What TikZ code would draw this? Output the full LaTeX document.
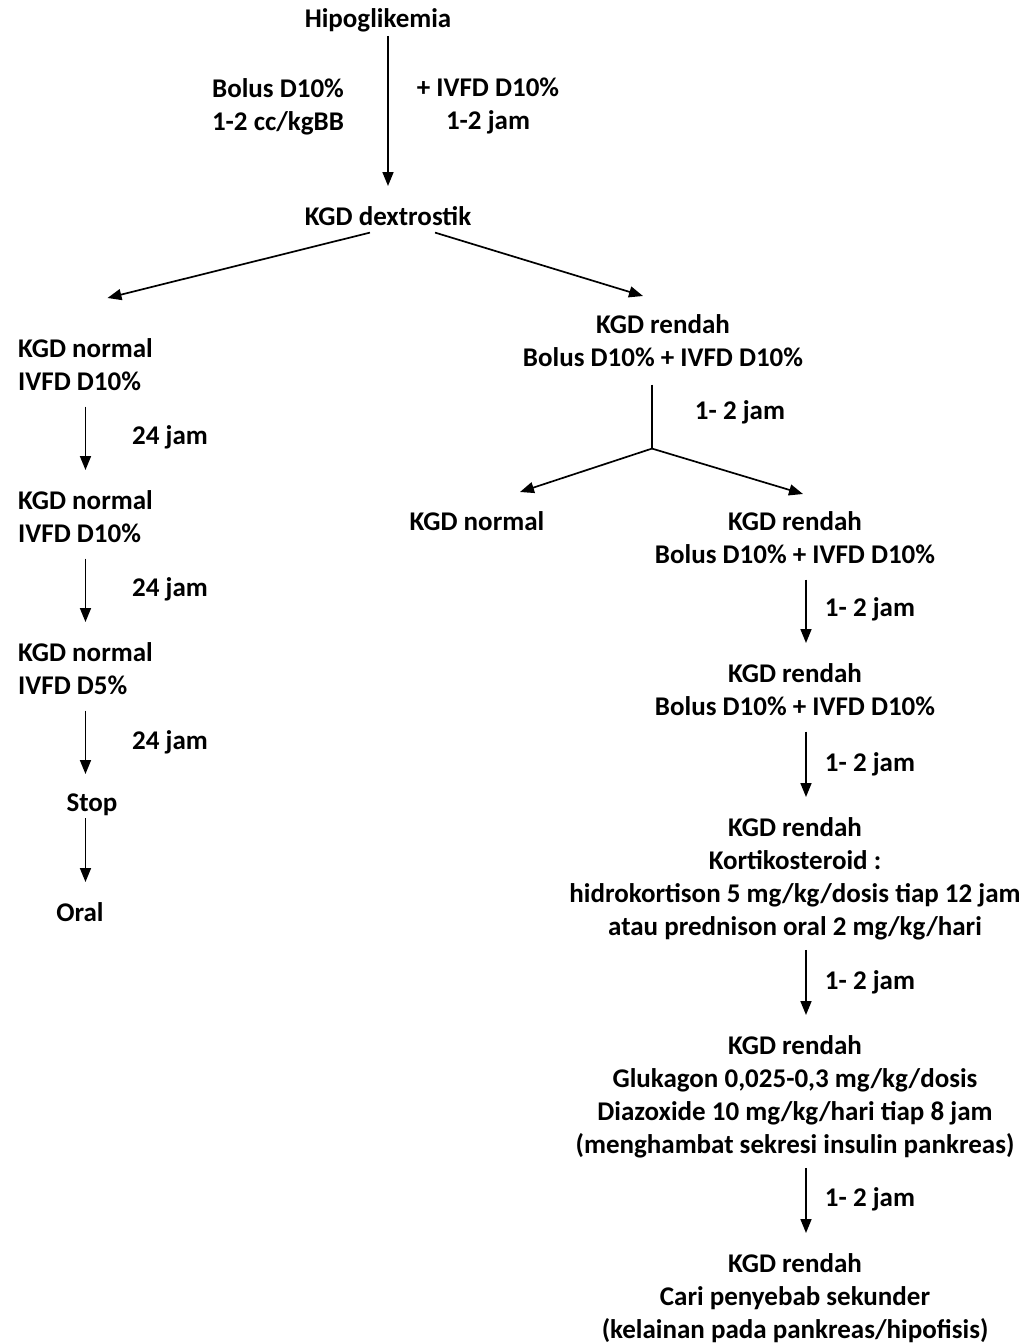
\documentclass[tikz,border=0pt]{standalone}
\usepackage{fontspec}
\setmainfont{Carlito}
\usepackage{tikz}
\usetikzlibrary{arrows.meta, positioning, calc}

\begin{document}
\begin{tikzpicture}[x=1pt, y=-1pt,
    txt/.style={font=\bfseries\fontsize{27}{33}\selectfont, inner sep=0pt, align=center, anchor=north},
    arr/.style={-{Triangle[length=14pt, width=11pt]}, line width=1.7pt, shorten >=20pt, shorten <=16pt},
    ln/.style={line width=1.7pt}]
    \useasboundingbox (0,0) rectangle (1027,1344);

    % Top
    \node[txt] (hipo) at (378, 8) {Hipoglikemia};
    \node[txt] (bolus) at (278, 78) {Bolus D10\%\\1-2 cc/kgBB};
    \node[txt] (ivfd) at (488, 78) {+ IVFD D10\%\\1-2 jam};
    \node[txt] (dex) at (388, 206) {KGD dextrostik};
    \draw[arr, shorten <=4pt] (hipo.south -| dex.north) -- (dex.north);

    % Left branch
    \node[txt, align=left, anchor=north west] (kn1) at (18, 338) {KGD normal\\IVFD D10\%};
    \node[txt, align=left, anchor=north west] (kn2) at (18, 490) {KGD normal\\IVFD D10\%};
    \node[txt, align=left, anchor=north west] (kn3) at (18, 642) {KGD normal\\IVFD D5\%};
    \node[txt] (stop) at (92, 794) {Stop};
    \node[txt] (oral) at (80, 902) {Oral};
    \node[txt] (t1) at (170, 425) {24 jam};
    \node[txt] (t2) at (170, 577) {24 jam};
    \node[txt] (t3) at (170, 730) {24 jam};
    \draw[arr] (kn1.south) -- (kn1.south |- kn2.north);
    \draw[arr] (kn2.south) -- (kn2.south |- kn3.north);
    \draw[arr] (kn3.south) -- (kn3.south |- stop.north);
    \draw[arr, shorten <=2pt] (stop.south -| kn3.south) -- (kn3.south |- oral.north);

    % Right branch
    \node[txt] (r1) at (663, 314) {KGD rendah\\Bolus D10\% + IVFD D10\%};
    \node[txt] (lr1) at (740, 400) {1- 2 jam};
    \node[txt] (knr) at (477, 511) {KGD normal};
    \node[txt] (r2) at (795, 511) {KGD rendah\\Bolus D10\% + IVFD D10\%};
    \node[txt] (lr2) at (870, 597) {1- 2 jam};
    \node[txt] (r3) at (795, 663) {KGD rendah\\Bolus D10\% + IVFD D10\%};
    \node[txt] (lr3) at (870, 752) {1- 2 jam};
    \node[txt] (r4) at (795, 817) {KGD rendah\\Kortikosteroid :\\hidrokortison 5 mg/kg/dosis tiap 12 jam\\atau prednison oral 2 mg/kg/hari};
    \node[txt] (lr4) at (870, 970) {1- 2 jam};
    \node[txt] (r5) at (795, 1035) {KGD rendah\\Glukagon 0,025-0,3 mg/kg/dosis\\Diazoxide 10 mg/kg/hari tiap 8 jam\\(menghambat sekresi insulin pankreas)};
    \node[txt] (lr5) at (870, 1187) {1- 2 jam};
    \node[txt] (r6) at (795, 1253) {KGD rendah\\Cari penyebab sekunder\\(kelainan pada pankreas/hipofisis)};

    % Split from KGD dextrostik
    \coordinate (dl) at ($(dex.south)+(-18,7)$);
    \coordinate (dr) at ($(dex.south)+(47,7)$);
    \draw[arr, shorten <=0pt, shorten >=0pt] (dl) -- ($(kn1.north)+(22,-40)$);
    \draw[arr, shorten <=0pt, shorten >=0pt] (dr) -- ($(r1.north)+(-20,-18)$);

    % Split after first KGD rendah
    \coordinate (split) at ($(r1.south)+(-11,82)$);
    \draw[ln] ($(r1.south)+(-11,18)$) -- (split);
    \draw[arr, shorten <=0pt, shorten >=0pt] (split) -- ($(knr.north)+(43,-19)$);
    \draw[arr, shorten <=0pt, shorten >=0pt] (split) -- ($(r2.north)+(8,-17)$);

    % Right column arrows
    \draw[arr] ([xshift=11pt]r2.south) -- ([xshift=11pt]r3.north);
    \draw[arr] ([xshift=11pt]r3.south) -- ([xshift=11pt]r4.north);
    \draw[arr, shorten <=10pt] ([xshift=11pt]r4.south) -- ([xshift=11pt]r5.north);
    \draw[arr, shorten <=10pt] ([xshift=11pt]r5.south) -- ([xshift=11pt]r6.north);
\end{tikzpicture}
\end{document}
